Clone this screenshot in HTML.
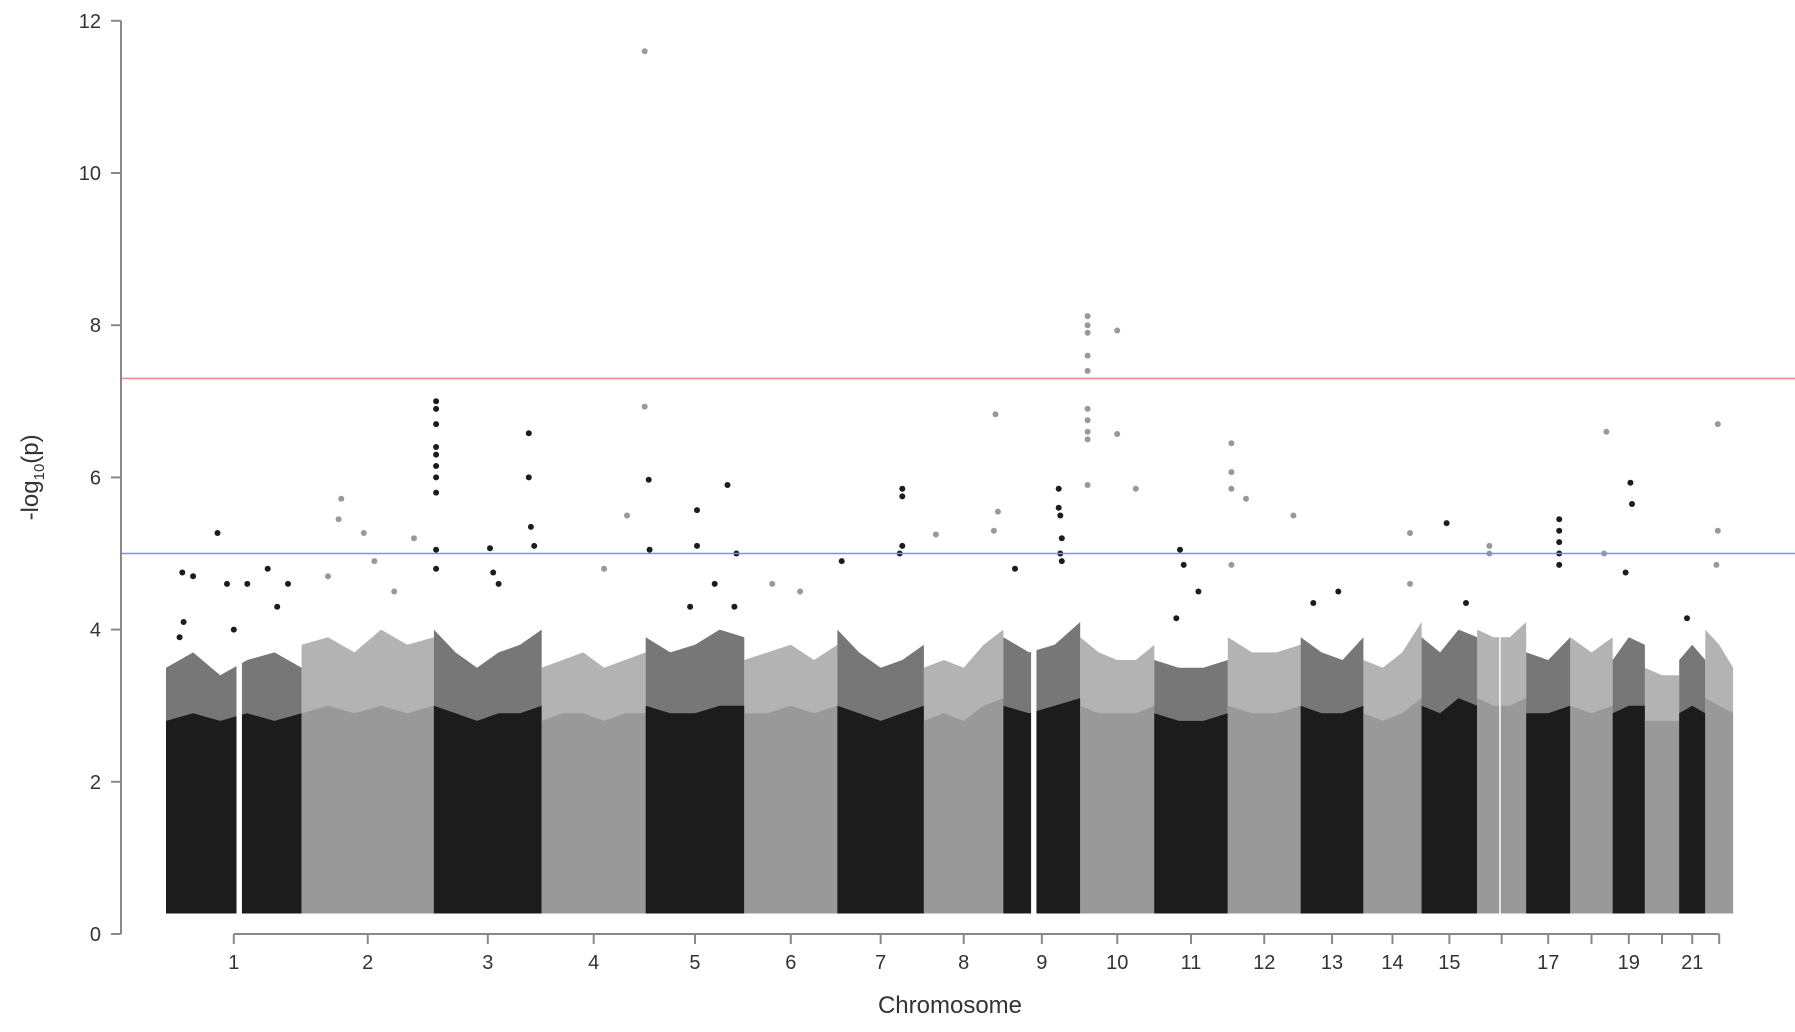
<!DOCTYPE html>
<html><head><meta charset="utf-8">
<style>
html,body{margin:0;padding:0;background:#fff;}
svg{display:block;font-family:"Liberation Sans",sans-serif;}
</style></head>
<body>
<svg id="chart" width="1795" height="1032" viewBox="0 0 1795 1032" xmlns="http://www.w3.org/2000/svg">
<g id="bodies"></g>
<g id="points"></g>
<g id="axes"></g>
</svg>
<script>
const chromNames = ["1","2","3","4","5","6","7","8","9","10","11","12","13","14","15","16","17","18","19","20","21","22"];
const chromLabels = ["1","2","3","4","5","6","7","8","9","10","11","12","13","14","15","","17","","19","","21",""];
const chromLengths = [249,243,198,191,181,171,159,146,141,136,135,134,115,107,102,90,81,78,59,63,48,51];
// solid dense-cloud top per chromosome (-log10 p)
const denseTop = [
 [2.8,2.9,2.8,2.9,2.8,2.9],
 [2.9,3.0,2.9,3.0,2.9,3.0],
 [3.0,2.9,2.8,2.9,2.9,3.0],
 [2.8,2.9,2.9,2.8,2.9,2.9],
 [3.0,2.9,2.9,3.0,3.0],
 [2.9,2.9,3.0,2.9,3.0],
 [3.0,2.9,2.8,2.9,3.0],
 [2.8,2.9,2.8,3.0,3.1],
 [3.0,2.9,3.0,3.1],
 [3.0,2.9,2.9,2.9,3.0],
 [2.9,2.8,2.8,2.9],
 [3.0,2.9,2.9,3.0],
 [3.0,2.9,2.9,3.0],
 [2.9,2.8,2.9,3.1],
 [3.0,2.9,3.1,3.0],
 [3.1,3.0,3.0,3.1],
 [2.9,2.9,3.0],
 [3.0,2.9,3.0],
 [2.9,3.0,3.0],
 [2.8,2.8,2.8],
 [2.9,3.0,2.9],
 [3.1,3.0,2.9]
];
// upper level of the sparse scatter above the dense cloud
const scatterTop = [
 [3.5,3.7,3.4,3.6,3.7,3.5],
 [3.8,3.9,3.7,4.0,3.8,3.9],
 [4.0,3.7,3.5,3.7,3.8,4.0],
 [3.5,3.6,3.7,3.5,3.6,3.7],
 [3.9,3.7,3.8,4.0,3.9],
 [3.6,3.7,3.8,3.6,3.8],
 [4.0,3.7,3.5,3.6,3.8],
 [3.5,3.6,3.5,3.8,4.0],
 [3.9,3.7,3.8,4.1],
 [3.9,3.7,3.6,3.6,3.8],
 [3.6,3.5,3.5,3.6],
 [3.9,3.7,3.7,3.8],
 [3.9,3.7,3.6,3.9],
 [3.6,3.5,3.7,4.1],
 [3.9,3.7,4.0,3.9],
 [4.0,3.9,3.9,4.1],
 [3.7,3.6,3.9],
 [3.9,3.7,3.9],
 [3.6,3.9,3.8],
 [3.5,3.4,3.4],
 [3.6,3.8,3.6],
 [4.0,3.8,3.5]
];
// centromere gaps: chromosome index, start fraction, width fraction
const gapChrom = [0, 8, 15];
const gapStart = [0.52, 0.36, 0.45];
const gapWidth = [0.04, 0.07, 0.03];
// highlighted points per chromosome: relative position and -log10 p
const snpPos = [
 [0.1,0.12,0.13,0.2,0.38,0.45,0.5,0.6,0.75,0.9,0.82],
 [0.3,0.28,0.47,0.55,0.85,0.2,0.7],
 [0.02,0.02,0.02,0.02,0.02,0.02,0.02,0.02,0.02,0.02,0.52,0.55,0.88,0.88,0.9,0.93,0.6],
 [0.6,0.82,0.99,0.99],
 [0.03,0.04,0.52,0.52,0.83,0.92,0.45,0.7,0.9],
 [0.3,0.6],
 [0.05,0.75,0.75,0.75,0.72],
 [0.15,0.9,0.93,0.88],
 [0.15,0.72,0.72,0.74,0.76,0.74,0.76],
 [0.1,0.1,0.1,0.1,0.1,0.1,0.1,0.1,0.1,0.1,0.5,0.5,0.75],
 [0.35,0.4,0.6,0.3],
 [0.05,0.05,0.05,0.05,0.25,0.9],
 [0.6,0.2],
 [0.8,0.8],
 [0.45,0.8],
 [0.25,0.25],
 [0.75,0.75,0.75,0.75,0.75],
 [0.85,0.8],
 [0.55,0.6,0.4],
 [],
 [0.3],
 [0.45,0.45,0.4]
];
const snpVal = [
 [3.9,4.75,4.1,4.7,5.27,4.6,4.0,4.6,4.8,4.6,4.3],
 [5.72,5.45,5.27,4.9,5.2,4.7,4.5],
 [7.0,6.9,6.7,6.4,6.3,6.15,6.0,5.8,5.05,4.8,5.07,4.75,6.58,6.0,5.35,5.1,4.6],
 [4.8,5.5,11.6,6.93],
 [5.97,5.05,5.57,5.1,5.9,5.0,4.3,4.6,4.3],
 [4.6,4.5],
 [4.9,5.85,5.75,5.1,5.0],
 [5.25,6.83,5.55,5.3],
 [4.8,5.85,5.6,5.5,5.2,5.0,4.9],
 [8.12,8.0,7.9,7.6,7.4,6.9,6.75,6.6,6.5,5.9,7.93,6.57,5.85],
 [5.05,4.85,4.5,4.15],
 [6.45,6.07,5.85,4.85,5.72,5.5],
 [4.5,4.35],
 [5.27,4.6],
 [5.4,4.35],
 [5.1,5.0],
 [5.45,5.3,5.15,5.0,4.85],
 [6.6,5.0],
 [5.93,5.65,4.75],
 [],
 [4.15],
 [6.7,5.3,4.85]
];
const yTicks = [0,2,4,6,8,10,12];
const redLine = 7.3, blueLine = 5.0, floorVal = 0.27;

const NS="http://www.w3.org/2000/svg";
const X0=166, PXMB=0.5445, Y0=934, PXU=76.1;
const starts=[];let c=0;for(const L of chromLengths){starts.push(c);c+=L;}
const xs = mb => X0 + mb*PXMB;
const ys = v => Y0 - v*PXU;
const colorOf = i => i%2===0 ? "#1c1c1c" : "#999999";
function mk(tag, attrs, parent){const e=document.createElementNS(NS,tag);for(const k in attrs)e.setAttribute(k,attrs[k]);parent.appendChild(e);return e;}
const bodies=document.getElementById('bodies'), pts=document.getElementById('points'), axes=document.getElementById('axes');

function envPath(i, env){
  const L=chromLengths[i], n=env.length;
  let d="M"+xs(starts[i]).toFixed(1)+","+ys(floorVal);
  env.forEach((v,k)=>{const mb=starts[i]+L*(k/(n-1));d+=" L"+xs(mb).toFixed(1)+","+ys(v).toFixed(1);});
  d+=" L"+xs(starts[i]+L).toFixed(1)+","+ys(floorVal)+" Z";
  return d;
}
chromLengths.forEach((L,i)=>{
  const s=mk('path',{d:envPath(i,scatterTop[i]),fill:colorOf(i),'fill-opacity':(i%2===0?0.6:0.75)},bodies);
  
  
  const p=mk('path',{d:envPath(i,denseTop[i]),fill:colorOf(i)},bodies);
  
  
});
gapChrom.forEach((ci,k)=>{
  const x1=xs(starts[ci]+chromLengths[ci]*gapStart[k]);
  const x2=xs(starts[ci]+chromLengths[ci]*(gapStart[k]+gapWidth[k]));
  const g=mk('rect',{x:x1,y:ys(4.2),width:x2-x1,height:ys(0)-ys(4.2),fill:'#fff'},bodies);
  
  
});
snpVal.forEach((arr,ci)=>{
  arr.forEach((v,k)=>{
    const cx=xs(starts[ci]+chromLengths[ci]*snpPos[ci][k]);
    const e=mk('circle',{cx:cx.toFixed(1),cy:ys(v).toFixed(1),r:3,fill:colorOf(ci)},pts);
    
    
  });
});
let l=mk('line',{x1:121,x2:1795,y1:ys(redLine),y2:ys(redLine),stroke:"#f08a8a",'stroke-width':1.6},axes);


l=mk('line',{x1:121,x2:1795,y1:ys(blueLine),y2:ys(blueLine),stroke:"#8a8af5",'stroke-width':1.6},axes);


l=mk('line',{x1:121,x2:121,y1:ys(12),y2:ys(0),stroke:"#888",'stroke-width':2},axes);


yTicks.forEach(t=>{
  mk('line',{x1:111,x2:121,y1:ys(t),y2:ys(t),stroke:"#888",'stroke-width':2},axes);
  const tx=mk('text',{x:101,y:ys(t)+7,'text-anchor':'end','font-size':20,fill:'#333'},axes);
  tx.textContent=t;
  
  
});
const yt=mk('text',{transform:'translate(38,'+ys(6)+') rotate(-90)','text-anchor':'middle','font-size':24,fill:'#333'},axes);
yt.innerHTML='-log<tspan font-size="15" dy="6">10</tspan><tspan dy="-6">(p)</tspan>';


const centers=chromLengths.map((L,i)=>xs(starts[i]+L/2));
const axY=ys(0);
l=mk('line',{x1:centers[0],x2:centers[21],y1:axY,y2:axY,stroke:"#888",'stroke-width':2},axes);


centers.forEach((cx,i)=>{
  mk('line',{x1:cx,x2:cx,y1:axY,y2:axY+10,stroke:"#888",'stroke-width':2},axes);
  if(chromLabels[i]){
    const tx=mk('text',{x:cx,y:axY+35,'text-anchor':'middle','font-size':20,fill:'#333'},axes);
    tx.textContent=chromLabels[i];
    
    
  }
});
const xt=mk('text',{x:950,y:1013,'text-anchor':'middle','font-size':24,fill:'#333'},axes);
xt.textContent='Chromosome';


</script>
</body></html>
